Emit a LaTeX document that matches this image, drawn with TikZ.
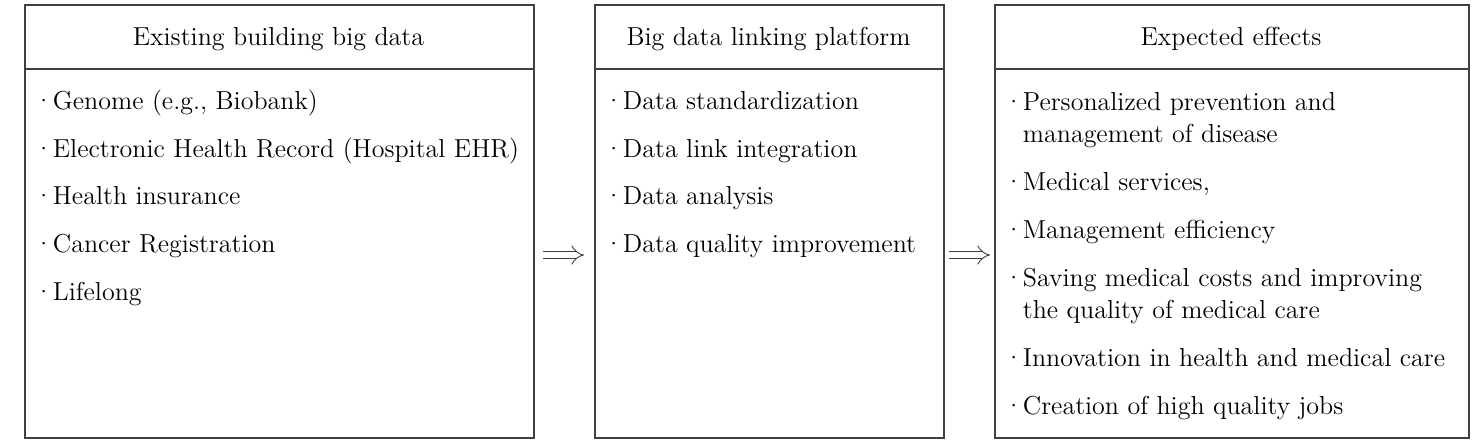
\documentclass[tikz,border=0pt]{standalone}
\usepackage{fontspec}
\usetikzlibrary{arrows.meta}
\newcommand{\bul}{\makebox[7pt][l]{\kern-2.5pt\textperiodcentered}}
\begin{document}
\begin{tikzpicture}[x=0.5pt,y=-0.5pt,
  boxframe/.style={draw=black!75,line width=0.8pt},
  hdr/.style={font=\fontsize{13}{15}\selectfont,anchor=base,inner sep=0pt},
  item/.style={font=\fontsize{13}{15}\selectfont,anchor=base west,inner sep=0pt,align=left},
  implies/.style={draw=black!75,double,double distance=3pt,line width=0.45pt,-{Implies[length=5pt,width=9pt]}}]
\useasboundingbox (0,0) rectangle (1473,446);
% boxes
\node[boxframe,rectangle,minimum width=254.5pt,minimum height=216.5pt,inner sep=0pt,anchor=north west] (b1) at (24,4) {};
\node[boxframe,rectangle,minimum width=174.5pt,minimum height=216.5pt,inner sep=0pt,anchor=north west] (b2) at (594,4) {};
\node[boxframe,rectangle,minimum width=237pt,minimum height=216.5pt,inner sep=0pt,anchor=north west] (b3) at (994,4) {};
\draw[boxframe] (24,69) -- (533,69);
\draw[boxframe] (594,69) -- (943,69);
\draw[boxframe] (994,69) -- (1468,69);
% headers
\node[hdr] (h1) at (278.5,45) {Existing building big data};
\node[hdr] (h2) at (768.5,45) {Big data linking platform};
\node[hdr] (h3) at (1231,45) {Expected effects};
% box 1 items
\node[item] (i11) at (38.5,109) {\bul Genome (e.g., Biobank)};
\node[item] (i12) at (38.5,157) {\bul Electronic Health Record (Hospital EHR)};
\node[item] (i13) at (38.5,204) {\bul Health insurance};
\node[item] (i14) at (38.5,252) {\bul Cancer Registration};
\node[item] (i15) at (38.5,300) {\bul Lifelong};
% box 2 items
\node[item] (i21) at (608.5,109) {\bul Data standardization};
\node[item] (i22) at (608.5,157) {\bul Data link integration};
\node[item] (i23) at (608.5,204) {\bul Data analysis};
\node[item] (i24) at (608.5,252) {\bul Data quality improvement};
% box 3 items
\node[item] (i31) at (1008.5,110) {\bul Personalized prevention and};
\node[item] (i31b) at (1022.5,142) {management of disease};
\node[item] (i32) at (1008.5,190) {\bul Medical services,};
\node[item] (i33) at (1008.5,238) {\bul Management efficiency};
\node[item] (i34) at (1008.5,286) {\bul Saving medical costs and improving};
\node[item] (i34b) at (1022.5,318) {the quality of medical care};
\node[item] (i35) at (1008.5,366) {\bul Innovation in health and medical care};
\node[item] (i36) at (1008.5,414) {\bul Creation of high quality jobs};
% arrows
\coordinate (a1s) at (543,255);
\coordinate (a1e) at (584,255);
\coordinate (a2s) at (949,255);
\coordinate (a2e) at (990,255);
\draw[implies] (a1s) -- (a1e);
\draw[implies] (a2s) -- (a2e);
\end{tikzpicture}
\end{document}
